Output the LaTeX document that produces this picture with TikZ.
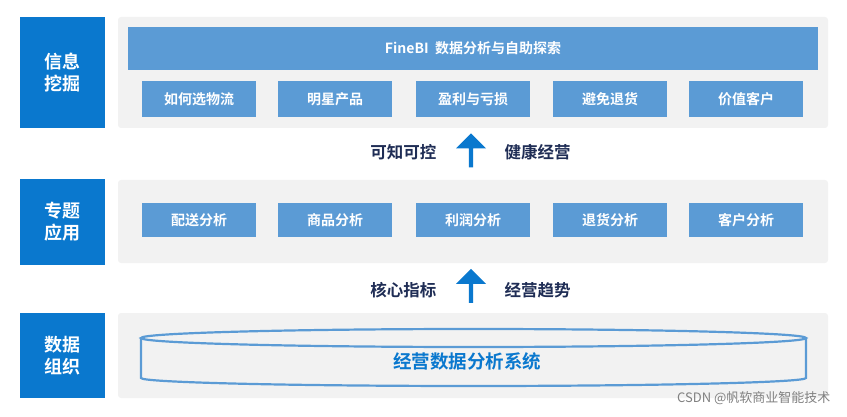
\documentclass[tikz,border=0pt]{standalone}
\usepackage{fontspec}
\setmainfont{Noto Sans CJK SC}[BoldFont={Noto Sans CJK SC Bold}]
\usetikzlibrary{shapes.arrows}
\definecolor{darkblue}{HTML}{0A78CE}
\definecolor{lightblue}{HTML}{5B9BD5}
\definecolor{panelgray}{HTML}{F2F2F2}
\definecolor{navy}{HTML}{1F2D55}
\begin{document}
\begin{tikzpicture}[x=1pt,y=-1pt,
  side box/.style={fill=darkblue,text=white,font=\bfseries\fontsize{18}{22}\selectfont,align=center,minimum width=85pt,inner sep=0pt},
  panel/.style={fill=panelgray,rounded corners=3pt},
  item box/.style={fill=lightblue,text=white,font=\bfseries\fontsize{14}{15}\selectfont,minimum width=114pt,inner sep=0pt},
  link text/.style={text=navy,font=\bfseries\fontsize{16.5}{18}\selectfont},
  up arrow/.style={single arrow,draw=none,fill=darkblue,shape border rotate=90,minimum height=34pt,minimum width=30pt,single arrow head extend=7pt,single arrow head indent=0pt,inner sep=1pt}]

  \useasboundingbox (0,0) rectangle (847,417);

  % left column
  \node[side box,minimum height=111pt] (mine) at (62.5,72.5){信息\\挖掘};
  \node[side box,minimum height=85pt] (topic) at (62.5,222){专题\\应用};
  \node[side box,minimum height=85pt] (data) at (62.5,355.5){数据\\组织};

  % panels
  \fill[panel] (118,17) rectangle (828,128);
  \fill[panel] (118,180) rectangle (828,263);
  \fill[panel] (118,313) rectangle (828,398);

  % top layer
  \node[fill=lightblue,text=white,font=\bfseries\fontsize{14}{15}\selectfont,minimum width=690pt,minimum height=43pt,inner sep=0pt] (bi) at (473,48.5){FineBI\ \ 数据分析与自助探索};
  \foreach \x/\name/\txt in {199/a1/如何选物流,335/a2/明星产品,473/a3/盈利与亏损,610/a4/避免退货,746/a5/价值客户}
    \node[item box,minimum height=36pt] (\name) at (\x,99){\txt};

  % middle layer
  \foreach \x/\name/\txt in {199/b1/配送分析,335/b2/商品分析,473/b3/利润分析,610/b4/退货分析,746/b5/客户分析}
    \node[item box,minimum height=34pt] (\name) at (\x,220){\txt};

  % links
  \node[up arrow] (arr1) at (471,151.5){};
  \node[link text,anchor=east] (k1) at (440,152){可知可控};
  \node[link text,anchor=west] (k2) at (501,152){健康经营};
  \node[up arrow] (arr2) at (471,287){};
  \node[link text,anchor=east] (k3) at (440,290){核心指标};
  \node[link text,anchor=west] (k4) at (501,290){经营趋势};

  % cylinder
  \draw[lightblue,line width=2.2pt,fill=panelgray] (141,338) -- (141,378) arc[start angle=180,end angle=360,x radius=332.5pt,y radius=8pt] -- (806,338);
  \draw[lightblue,line width=2.2pt] (473.5,338) ellipse[x radius=332.5pt,y radius=9pt];
  \node[text=darkblue,font=\bfseries\fontsize{18.5}{20}\selectfont] (sys) at (467,361){经营数据分析系统};

  \node[text=gray,font=\mdseries\fontsize{13}{14}\selectfont,anchor=east] (mark) at (834,398){CSDN @帆软商业智能技术};
\end{tikzpicture}
\end{document}
